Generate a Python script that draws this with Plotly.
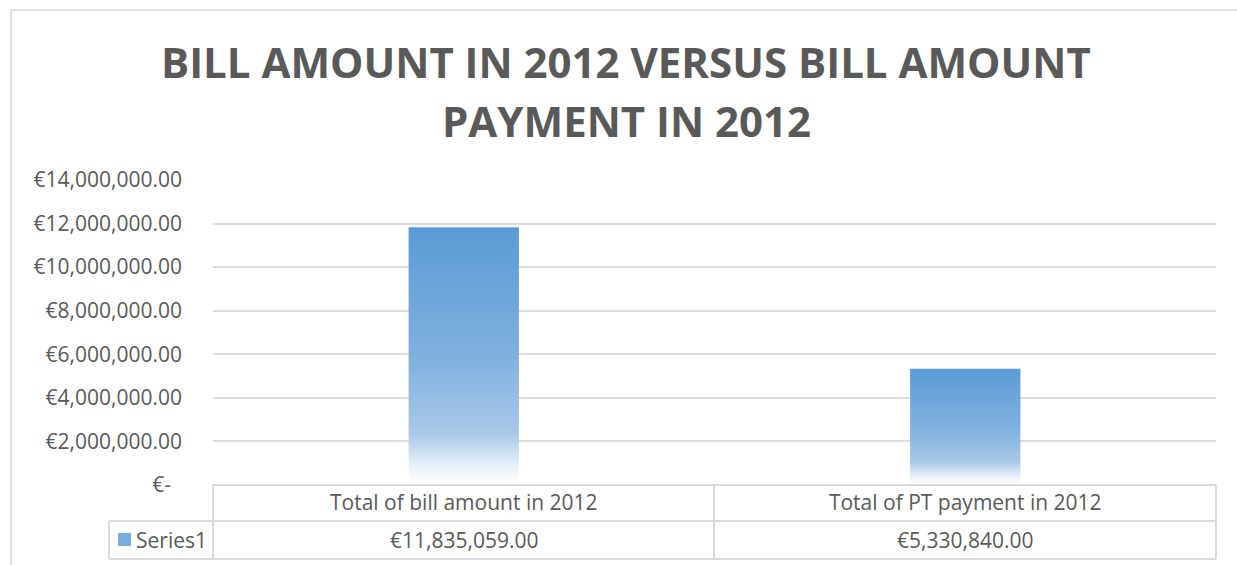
import plotly.graph_objects as go

# ---- data ----
categories = ["Total of bill amount in 2012", "Total of PT payment in 2012"]
values = [11835059, 5330840]
value_labels = ["€11,835,059.00", "€5,330,840.00"]
series_name = "Series1"
y_tick_vals = [0, 2000000, 4000000, 6000000, 8000000, 10000000, 12000000, 14000000]
y_tick_text = ["€-\u00a0\u00a0", "€2,000,000.00", "€4,000,000.00", "€6,000,000.00",
               "€8,000,000.00", "€10,000,000.00", "€12,000,000.00", "€14,000,000.00"]
title_lines = ["BILL AMOUNT IN 2012 VERSUS BILL AMOUNT", "PAYMENT IN 2012"]

W, H = 1237, 565
L, R, T, B = 213, 21, 180, 80
PW, PH = W - L - R, H - T - B
FONT = "Open Sans"
TXT = "#595959"
GRID = "#dcdcdc"
BORDER = "#d9d9d9"

def px(x):
    return (x - L) / PW

def py(y):
    return (H - B - y) / PH

bar_half = 0.11
grad = [[0, "#ffffff"], [0.07, "#eaf2fa"], [0.2, "#a9c8e9"], [0.5, "#7fb0df"], [1, "#5b9bd5"]]

fig = go.Figure()
for i, v in enumerate(values):
    xs = [i - bar_half, i + bar_half, i + bar_half, i - bar_half, i - bar_half]
    ys = [0, 0, v, v, 0]
    fig.add_trace(go.Scatter(
        x=xs, y=ys, mode="lines", fill="toself",
        line=dict(width=0, color="rgba(0,0,0,0)"),
        fillgradient=dict(type="vertical", colorscale=grad),
        name=series_name, showlegend=False, hoverinfo="skip",
    ))

shapes = []
def line(x0, y0, x1, y1, color=BORDER, width=1.5):
    shapes.append(dict(type="line", xref="paper", yref="paper",
                       x0=px(x0), y0=py(y0), x1=px(x1), y1=py(y1),
                       line=dict(color=color, width=width)))

# chart border
line(11, 10, 11, 565)
line(11, 10, 1237, 10)
# data table
line(213, 485, 1216, 485, width=2)
line(109, 521, 1216, 521, width=2)
line(109, 559, 1216, 559, width=2)
line(109, 521, 109, 559, width=2)
line(213, 485, 213, 559, width=2)
line(714, 485, 714, 559, width=2)
line(1216, 485, 1216, 559, width=2)
# legend key
shapes.append(dict(type="rect", xref="paper", yref="paper",
                   x0=px(118), x1=px(131), y0=py(546), y1=py(533),
                   fillcolor="#7aaedf", line=dict(width=0)))

annotations = []
for i, lbl in enumerate(value_labels):
    annotations.append(dict(x=i, y=py(540), xref="x", yref="paper", text=lbl,
                            showarrow=False, font=dict(family=FONT, size=21, color=TXT),
                            xanchor="center", yanchor="middle"))
annotations.append(dict(x=px(134), y=py(540), xref="paper", yref="paper", text=series_name,
                        showarrow=False, font=dict(family=FONT, size=21, color=TXT),
                        xanchor="left", yanchor="middle"))
for k, (t, yy) in enumerate(zip(title_lines, [62, 120])):
    annotations.append(dict(x=px(626), y=py(yy), xref="paper", yref="paper", text="<b>" + t + "</b>",
                            showarrow=False, font=dict(family=FONT, size=42, color=TXT),
                            xanchor="center", yanchor="middle"))

fig.update_layout(
    width=W, height=H,
    margin=dict(l=L, r=R, t=T, b=B, pad=0),
    paper_bgcolor="white", plot_bgcolor="white",
    showlegend=False,
    shapes=shapes, annotations=annotations,
    xaxis=dict(range=[-0.5, 1.5], tickvals=[0, 1], ticktext=categories,
               showgrid=False, zeroline=False, showline=False, ticks="",
               tickfont=dict(family=FONT, size=21, color=TXT), ticklabelstandoff=3),
    yaxis=dict(range=[0, 14000000], tickvals=y_tick_vals, ticktext=y_tick_text,
               showgrid=True, gridcolor=GRID, gridwidth=2, zeroline=False, showline=False,
               ticks="", tickfont=dict(family=FONT, size=21, color=TXT), ticklabelstandoff=30),
)

fig.write_html("out.html")
